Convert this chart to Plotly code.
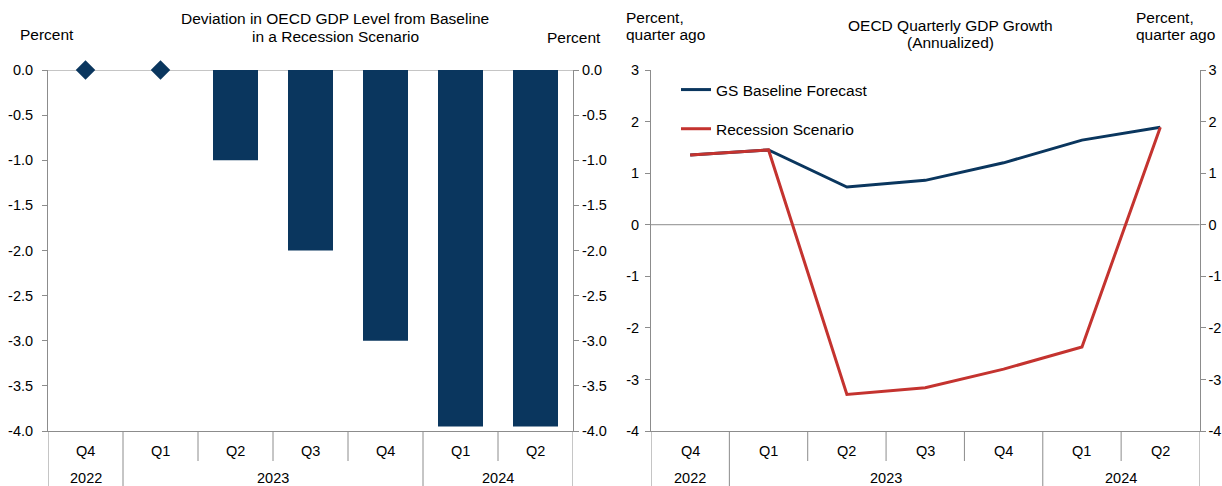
import plotly.graph_objects as go

# ---- data ----
quarters = ["Q4", "Q1", "Q2", "Q3", "Q4", "Q1", "Q2"]
years = ["2022", "2023", "2023", "2023", "2023", "2024", "2024"]

# Left panel: deviation of OECD GDP level from baseline (percent)
deviation_bars = [None, None, -1.0, -2.0, -3.0, -3.95, -3.95]
deviation_markers = [0.0, 0.0, None, None, None, None, None]

# Right panel: quarterly GDP growth, annualized (percent, quarter ago)
gs_baseline = [1.35, 1.45, 0.73, 0.86, 1.20, 1.64, 1.89]
recession = [1.35, 1.45, -3.29, -3.16, -2.80, -2.37, 1.89]

left_ticks = [0.0, -0.5, -1.0, -1.5, -2.0, -2.5, -3.0, -3.5, -4.0]
right_ticks = [3, 2, 1, 0, -1, -2, -3, -4]

# ---- styling ----
W, H = 1222, 486
NAVY = "#0A365E"
RED = "#C4332F"
AXIS = "#8C8C8C"
FONT = "Liberation Sans, Arial, sans-serif"
TICK_SIZE = 14.5
TEXT_SIZE = 15.5

def px_x(p):
    return p / W

def px_y(p):
    return 1 - p / H

plot_top, plot_bottom = 70, 431
ydom = [px_y(plot_bottom), px_y(plot_top)]
left_dom = [px_x(48), px_x(573)]
right_dom = [px_x(651), px_x(1199.5)]

xs = list(range(len(quarters)))

def fmt_left(v):
    return f"{v:.1f}"

fig = go.Figure()

fig.add_trace(go.Bar(
    x=xs, y=deviation_bars, marker=dict(color=NAVY, line=dict(width=0)),
    width=0.6, showlegend=False, xaxis="x", yaxis="y",
))
fig.add_trace(go.Scatter(
    x=xs, y=deviation_markers, mode="markers",
    marker=dict(symbol="diamond", size=15, color=NAVY),
    showlegend=False, xaxis="x", yaxis="y", cliponaxis=False,
))

fig.add_trace(go.Scatter(
    x=xs, y=gs_baseline, mode="lines", name="GS Baseline Forecast",
    line=dict(color=NAVY, width=3), xaxis="x2", yaxis="y2",
    legendgroup="a",
))
fig.add_trace(go.Scatter(
    x=xs, y=recession, mode="lines", name="Recession Scenario",
    line=dict(color=RED, width=3), xaxis="x2", yaxis="y2",
    legendgroup="b",
))

axis_common = dict(
    showgrid=False, zeroline=False, showline=True, linecolor=AXIS, linewidth=1,
    ticks="outside", ticklen=5, tickcolor=AXIS, tickwidth=1, automargin=False,
    tickfont=dict(family=FONT, size=TICK_SIZE, color="#000"),
)

x_common = dict(
    range=[-0.5, len(quarters) - 0.5], showgrid=False, zeroline=False,
    showline=True, linecolor=AXIS, linewidth=1, showticklabels=False, ticks="",
    fixedrange=True, automargin=False,
)

fig.update_layout(
    template="none",
    width=W, height=H, autosize=False,
    margin=dict(l=0, r=0, t=0, b=0, pad=0, autoexpand=False),
    paper_bgcolor="white", plot_bgcolor="white",
    font=dict(family=FONT, size=TEXT_SIZE, color="#000"),
    bargap=0.4,
    xaxis=dict(domain=left_dom, anchor="y", **x_common),
    yaxis=dict(domain=ydom, range=[-4, 0], tickvals=left_ticks,
               ticktext=[fmt_left(v) for v in left_ticks], side="left",
               anchor="x", ticklabelstandoff=6, **axis_common),
    yaxis3=dict(range=[-4, 0], tickvals=left_ticks,
                ticktext=[fmt_left(v) for v in left_ticks], side="right",
                overlaying="y", anchor="x", **axis_common),
    xaxis2=dict(domain=right_dom, anchor="y2", **x_common),
    yaxis2=dict(domain=ydom, range=[-4, 3], tickvals=right_ticks,
                ticktext=[str(v) for v in right_ticks], side="left",
                anchor="x2", ticklabelstandoff=3, **axis_common),
    yaxis4=dict(range=[-4, 3], tickvals=right_ticks,
                ticktext=[str(v) for v in right_ticks], side="right",
                overlaying="y2", anchor="x2", **axis_common),
    legend=dict(
        x=px_x(676), y=px_y(73), xanchor="left", yanchor="top",
        bgcolor="rgba(0,0,0,0)", font=dict(family=FONT, size=TEXT_SIZE, color="#000"),
        traceorder="grouped", tracegroupgap=16,
    ),
    showlegend=True,
)

# right-side axes need a trace to be drawn
fig.add_trace(go.Scatter(x=[None], y=[None], xaxis="x", yaxis="y3", showlegend=False))
fig.add_trace(go.Scatter(x=[None], y=[None], xaxis="x2", yaxis="y4", showlegend=False))

shapes = []
# horizontal reference lines at zero
shapes.append(dict(type="line", xref="x domain", yref="y", x0=0, x1=1, y0=0, y1=0,
                   line=dict(color=AXIS, width=1), layer="below"))
shapes.append(dict(type="line", xref="x2 domain", yref="y2", x0=0, x1=1, y0=0, y1=0,
                   line=dict(color=AXIS, width=1), layer="below"))

annotations = []
q_row = px_y(451)
y_row = px_y(478)
quarter_div_bottom = px_y(461)

for xa in ("x", "x2"):
    # category boundaries: full height where the year changes
    for i in range(len(quarters) + 1):
        year_break = i == 0 or i == len(quarters) or years[i] != years[i - 1]
        shapes.append(dict(
            type="line", xref=xa, yref="paper", x0=i - 0.5, x1=i - 0.5,
            y0=ydom[0], y1=0 if year_break else quarter_div_bottom,
            line=dict(color=AXIS, width=1),
        ))
    for i, q in enumerate(quarters):
        annotations.append(dict(
            x=i, y=q_row, xref=xa, yref="paper", text=q, showarrow=False,
            font=dict(family=FONT, size=TICK_SIZE, color="#000"),
            xanchor="center", yanchor="middle",
        ))
    # year labels centred over each run of quarters
    start = 0
    for i in range(1, len(years) + 1):
        if i == len(years) or years[i] != years[start]:
            annotations.append(dict(
                x=(start + i - 1) / 2, y=y_row, xref=xa, yref="paper",
                text=years[start], showarrow=False,
                font=dict(family=FONT, size=TICK_SIZE, color="#000"),
                xanchor="center", yanchor="middle",
            ))
            start = i

def text(x, y, s, anchor="center"):
    annotations.append(dict(
        x=px_x(x), y=px_y(y), xref="paper", yref="paper", text=s, showarrow=False,
        font=dict(family=FONT, size=TEXT_SIZE, color="#000"),
        xanchor=anchor, yanchor="middle",
    ))

# panel titles and unit labels, one line each
text(335, 19, "Deviation in OECD GDP Level from Baseline")
text(335, 36, "in a Recession Scenario")
text(18, 35, "Percent", "left")
text(545, 38, "Percent", "left")
text(950, 25, "OECD Quarterly GDP Growth")
text(950, 43, "(Annualized)")
text(624, 18, "Percent,", "left")
text(624, 34, "quarter ago", "left")
text(1134, 18, "Percent,", "left")
text(1134, 34, "quarter ago", "left")

fig.update_layout(shapes=shapes, annotations=annotations)

fig.write_html(
    "out.html",
    config={"responsive": False},
    post_script="document.body.style.margin='0';",
)
